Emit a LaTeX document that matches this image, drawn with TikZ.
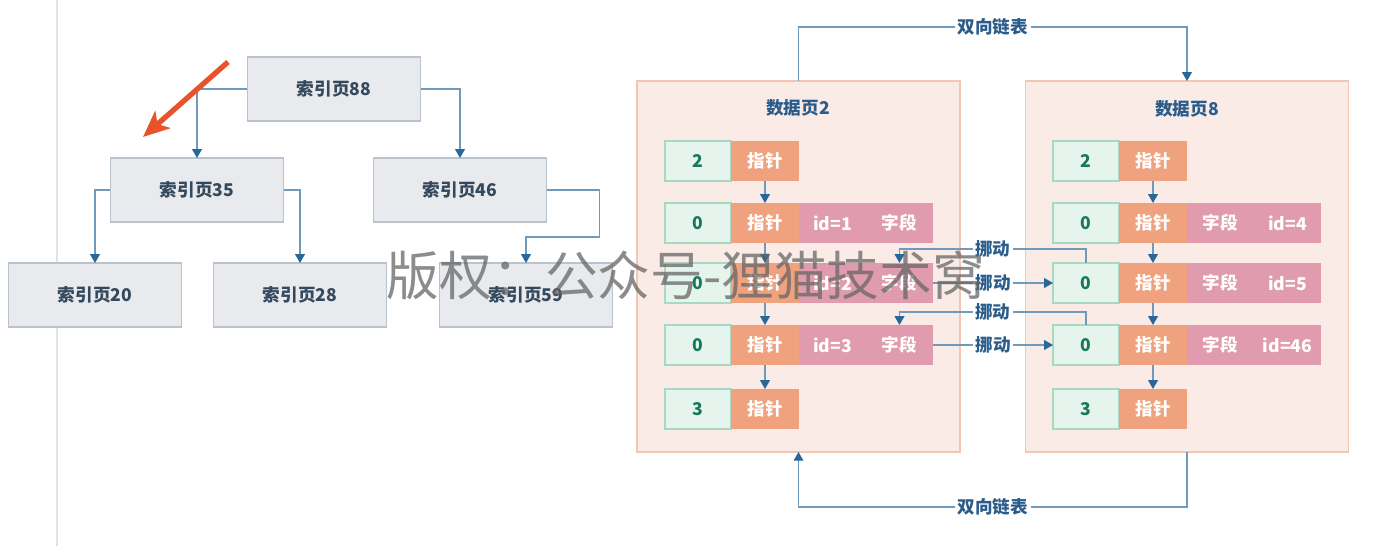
\documentclass[tikz,border=0pt]{standalone}
\usepackage{fontspec}
\setmainfont{Noto Sans CJK SC}
\usetikzlibrary{arrows.meta}

\definecolor{idxfill}{HTML}{E8EAEE}
\definecolor{idxline}{HTML}{B9C3CE}
\definecolor{idxtext}{HTML}{34495E}
\definecolor{linkline}{HTML}{6F9ABB}
\definecolor{linktip}{HTML}{2A6799}
\definecolor{linktext}{HTML}{2A5D8C}
\definecolor{pagefill}{HTML}{FBEBE6}
\definecolor{pageline}{HTML}{F3C5B3}
\definecolor{numfill}{HTML}{E6F4EE}
\definecolor{numline}{HTML}{A9D8C3}
\definecolor{numtext}{HTML}{18785A}
\definecolor{ptrfill}{HTML}{F0A17E}
\definecolor{recfill}{HTML}{E19BAE}
\definecolor{hintred}{HTML}{E8532B}
\definecolor{rulegrey}{HTML}{E3E3E3}

\begin{document}
\begin{tikzpicture}[x=0.02cm, y=-0.02cm,
	every node/.style={font=\fontsize{10}{12}\selectfont\bfseries, inner sep=0pt, outer sep=0pt},
	idxbox/.style={draw=idxline, fill=idxfill, line width=0.8pt, minimum width=3.47cm, minimum height=1.28cm, text=idxtext},
	page/.style={draw=pageline, fill=pagefill, line width=0.8pt, minimum width=6.46cm, minimum height=7.42cm},
	pagetitle/.style={text=linktext},
	numcell/.style={draw=numline, fill=numfill, line width=0.8pt, minimum width=1.32cm, minimum height=0.8cm, text=numtext},
	ptrcell/.style={fill=ptrfill, minimum width=1.36cm, minimum height=0.8cm, text=white},
	reccell/.style={fill=recfill, minimum width=1.34cm, minimum height=0.8cm, text=white},
	link/.style={draw=linkline, line width=0.8pt, -{Triangle[length=5pt, width=5.5pt, color=linktip]}},
	lbl/.style={fill=white, text=linktext, inner sep=1.5pt},
	hint/.style={draw=hintred, line width=3pt, -{Stealth[length=15pt, width=13pt, inset=4pt]}},
	watermark/.style={font=\fontsize{30}{30}\selectfont, text=black!60, text opacity=0.75}]
	
	% canvas
	\fill[white] (0,0) rectangle (1380,546);
	\useasboundingbox (0,0) rectangle (1380,546);
	\draw[rulegrey, line width=0.8pt] (57,0) -- (57,546);
	
	% index tree
	\node[idxbox] (i88) at (334,89) {索引页88};
	\node[idxbox] (i35) at (197,190) {索引页35};
	\node[idxbox] (i46) at (460,190) {索引页46};
	\node[idxbox] (i20) at (95,295) {索引页20};
	\node[idxbox] (i28) at (300,295) {索引页28};
	\node[idxbox] (i59) at (526,295) {索引页59};
	
	\draw[link] (i88.west) -| (i35.north);
	\draw[link] (i88.east) -| (i46.north);
	\draw[link] (i35.west) -| (i20.north);
	\draw[link] (i35.east) -| (i28.north);
	\draw[link] (i46.east) -| ++(53,47) -| (i59.north);
	
	% hint arrow
	\coordinate (hs) at (228,62);
	\coordinate (he) at (143,137);
	\draw[hint] (hs) -- (he);
	
	% data pages
	\node[page] (pa) at (798.5,266.5) {};
	\node[page] (pb) at (1187,266.5) {};
	\node[pagetitle] (ta) at (798,108) {数据页2};
	\node[pagetitle] (tb) at (1187,109) {数据页8};
	
	% slots and pointers
	\foreach \pg/\dx in {a/0,b/388}{
		\foreach \r/\y/\v in {1/161/2,2/223/0,3/283/0,4/345/0,5/409/3}{
			\node[numcell] (\pg n\r) at (698+\dx,\y) {\v};
			\node[ptrcell] (\pg p\r) at (765+\dx,\y) {指针};
		}
	}
	
	% records
	\foreach \r/\y/\k in {2/223/1,3/283/2,4/345/3}{
		\node[reccell] (ai\r) at (832.5,\y) {id=\k};
		\node[reccell] (af\r) at (899.5,\y) {字段};
	}
	\foreach \r/\y/\k in {2/223/4,3/283/5,4/345/46}{
		\node[reccell] (bf\r) at (1220.5,\y) {字段};
		\node[reccell] (bi\r) at (1287.5,\y) {id=\k};
	}
	
	\foreach \pg in {a,b}
	\foreach \r/\s in {1/2,2/3,3/4,4/5}
	\draw[link] (\pg p\r.south) -- (\pg p\s.north);
	
	% moves
	\draw[link] (bn3.north) -- ++(0,-14) -| node[lbl, pos=0.25] {挪动} (af3.north);
	\draw[link] (af3.east) -- node[lbl] {挪动} (bn3.west);
	\draw[link] (bn4.north) -- ++(0,-13) -| node[lbl, pos=0.25] {挪动} (af4.north);
	\draw[link] (af4.east) -- node[lbl] {挪动} (bn4.west);
	
	% double linked list
	\draw[link] (pa.north) -- ++(0,-54) -| node[lbl, pos=0.25] {双向链表} (pb.north);
	\draw[link] (pb.south) -- ++(0,55) -| node[lbl, pos=0.25] {双向链表} (pa.south);
	
	% watermark
	\node[watermark] (wm) at (686,275) {版权：公众号-狸猫技术窝};
\end{tikzpicture}
\end{document}
